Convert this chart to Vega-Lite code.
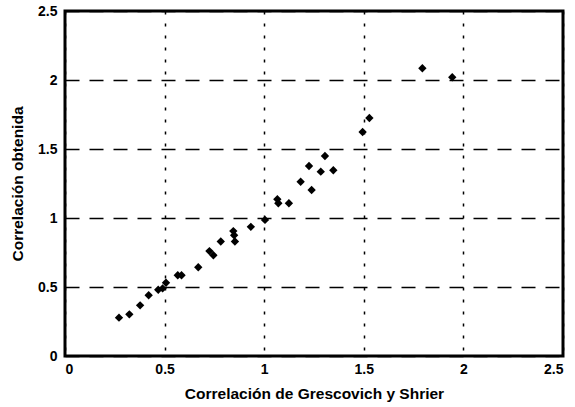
{
  "$schema": "https://vega.github.io/schema/vega-lite/v6.json",
  "width": 498,
  "height": 345,
  "autosize": {"type": "none"},
  "padding": {"left": 65, "top": 11, "right": 12, "bottom": 51},
  "background": "white",
  "config": {
    "view": {"stroke": "black", "strokeWidth": 3},
    "axis": {
      "labelFont": "Liberation Sans",
      "labelFontWeight": "bold",
      "labelFontSize": 14,
      "labelColor": "black",
      "titleFont": "Liberation Sans",
      "titleFontWeight": "bold",
      "titleFontSize": 15.5,
      "titleColor": "black",
      "domain": false,
      "ticks": false,
      "gridColor": "black",
      "gridOpacity": 1
    }
  },
  "data": {
    "values": [
      {"x": 0.271, "y": 0.278},
      {"x": 0.323, "y": 0.302},
      {"x": 0.377, "y": 0.367},
      {"x": 0.42, "y": 0.44},
      {"x": 0.468, "y": 0.48},
      {"x": 0.49, "y": 0.49},
      {"x": 0.507, "y": 0.531},
      {"x": 0.566, "y": 0.585},
      {"x": 0.585, "y": 0.585},
      {"x": 0.669, "y": 0.643},
      {"x": 0.725, "y": 0.76},
      {"x": 0.745, "y": 0.73},
      {"x": 0.782, "y": 0.83},
      {"x": 0.845, "y": 0.905},
      {"x": 0.849, "y": 0.875},
      {"x": 0.853, "y": 0.83},
      {"x": 0.933, "y": 0.936},
      {"x": 1.004, "y": 0.986},
      {"x": 1.066, "y": 1.136},
      {"x": 1.071, "y": 1.107},
      {"x": 1.124, "y": 1.107},
      {"x": 1.183, "y": 1.263},
      {"x": 1.225, "y": 1.377},
      {"x": 1.238, "y": 1.203},
      {"x": 1.284, "y": 1.336},
      {"x": 1.305, "y": 1.449},
      {"x": 1.347, "y": 1.346},
      {"x": 1.494, "y": 1.623},
      {"x": 1.528, "y": 1.725},
      {"x": 1.794, "y": 2.085},
      {"x": 1.944, "y": 2.02}
    ]
  },
  "mark": {"type": "point", "shape": "diamond", "filled": true, "color": "black", "opacity": 1, "size": 70},
  "encoding": {
    "x": {
      "field": "x",
      "type": "quantitative",
      "scale": {"domain": [0, 2.5], "nice": false},
      "axis": {
        "title": "Correlación de Grescovich y Shrier",
        "values": [0, 0.5, 1, 1.5, 2, 2.5],
        "format": "~g",
        "labelPadding": 6,
        "titlePadding": 10,
        "gridDash": [3, 9],
        "gridWidth": 1.5
      }
    },
    "y": {
      "field": "y",
      "type": "quantitative",
      "scale": {"domain": [0, 2.5], "nice": false},
      "axis": {
        "title": "Correlación obtenida",
        "values": [0, 0.5, 1, 1.5, 2, 2.5],
        "format": "~g",
        "labelPadding": 8,
        "titlePadding": 12,
        "gridDash": [14, 10],
        "gridWidth": 1.5
      }
    }
  }
}
